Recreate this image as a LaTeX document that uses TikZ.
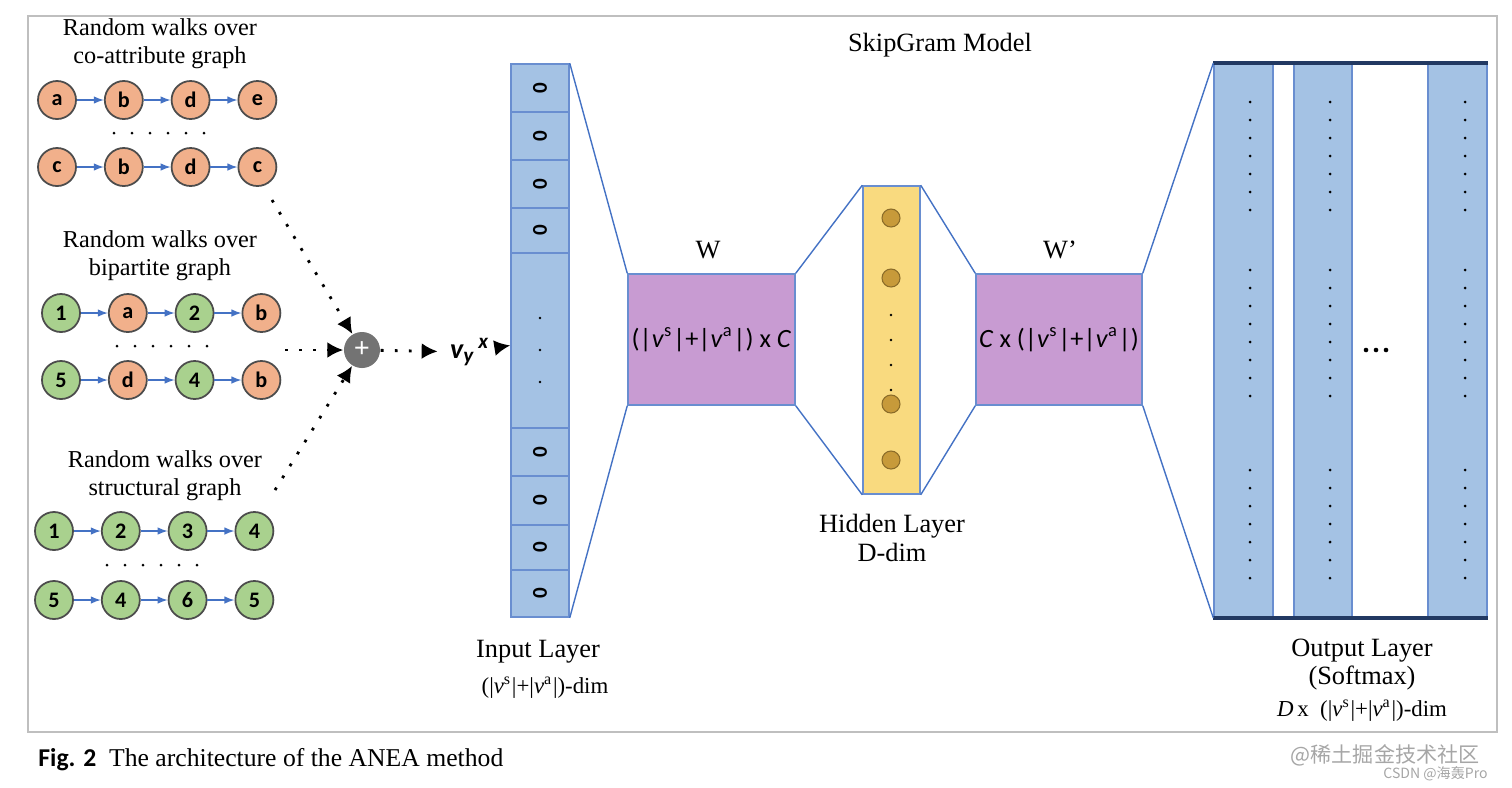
\documentclass[tikz,border=0pt]{standalone}
\usepackage{fontspec}
\setmainfont{Liberation Serif}
\newfontfamily\calfont{Carlito}
\newfontfamily\cjk{Noto Sans CJK SC}
\usetikzlibrary{positioning}
\usetikzlibrary{arrows.meta}
\definecolor{walkorange}{HTML}{F1B08B}
\definecolor{walkgreen}{HTML}{A9D18E}
\definecolor{layerblue}{HTML}{A4C2E4}
\definecolor{layerpurple}{HTML}{C89BD2}
\definecolor{layeryellow}{HTML}{F9DA7F}
\definecolor{edgeblue}{HTML}{4472C4}
\definecolor{unitbrown}{HTML}{C79A3A}
\newcommand{\vsva}{(|\textit{v}\textsuperscript{s}|+|\textit{v}\textsuperscript{a}|)}

\begin{document}
\begin{tikzpicture}[
    x=0.01cm, y=-0.01cm,
    font=\fontsize{6.9}{8}\selectfont,
    node distance=0.27cm,
    onode/.style={circle, draw=black!70, line width=0.5pt, fill=walkorange, minimum size=0.38cm, inner sep=0pt, font=\calfont\bfseries\fontsize{6.3}{7}\selectfont},
    gnode/.style={onode, fill=walkgreen},
    walkstep/.style={-{Latex[length=1mm]}, edgeblue, line width=0.4pt},
    dotline/.style={line width=0.8pt, dash pattern=on 0.8pt off 3.2pt, -{Latex[length=1.6mm,width=1.6mm]}},
    layer/.style={draw=edgeblue!80, line width=0.4pt, fill=layerblue, inner sep=0pt},
    link/.style={-, edgeblue, line width=0.4pt},
    zero/.style={rotate=90, font=\calfont\bfseries\fontsize{6}{7}\selectfont},
    textblock/.style={align=center},
    wbox/.style={draw=edgeblue!80, fill=layerpurple, inner sep=0pt, font=\calfont\fontsize{7.5}{9}\selectfont}
    ]
    \useasboundingbox (0,0) rectangle (1512,787);
    \draw[black!25] (28,16) rectangle (1497,732);

    %Walks over co-attribute graph
    \node[textblock] at (160,44) {Random walks over\\co-attribute graph};
    \node[onode] (A1) at (57,100) {a};
    \node[onode] (A2) [right=of A1] {b};
    \node[onode] (A3) [right=of A2] {d};
    \node[onode] (A4) [right=of A3] {e};
    \foreach \x in {0,...,5}
        \fill (114+\x*18,133) circle (1.5);
    \node[onode] (B1) at (57,167) {c};
    \node[onode] (B2) [right=of B1] {b};
    \node[onode] (B3) [right=of B2] {d};
    \node[onode] (B4) [right=of B3] {c};

    %Walks over bipartite graph
    \node[textblock] at (160,256) {Random walks over\\bipartite graph};
    \node[gnode] (C1) at (61,313) {1};
    \node[onode] (C2) [right=of C1] {a};
    \node[gnode] (C3) [right=of C2] {2};
    \node[onode] (C4) [right=of C3] {b};
    \foreach \x in {0,...,5}
        \fill (117+\x*18,346) circle (1.5);
    \node[gnode] (D1) at (61,380) {5};
    \node[onode] (D2) [right=of D1] {d};
    \node[gnode] (D3) [right=of D2] {4};
    \node[onode] (D4) [right=of D3] {b};

    %Walks over structural graph
    \node[textblock] at (165,476) {Random walks over\\structural graph};
    \node[gnode] (E1) at (54,531) {1};
    \node[gnode] (E2) [right=of E1] {2};
    \node[gnode] (E3) [right=of E2] {3};
    \node[gnode] (E4) [right=of E3] {4};
    \foreach \x in {0,...,5}
        \fill (107+\x*18,565) circle (1.5);
    \node[gnode] (F1) at (54,600) {5};
    \node[gnode] (F2) [right=of F1] {4};
    \node[gnode] (F3) [right=of F2] {6};
    \node[gnode] (F4) [right=of F3] {5};

    %Steps
    \draw[walkstep] (A1) -- (A2); \draw[walkstep] (A2) -- (A3); \draw[walkstep] (A3) -- (A4);
    \draw[walkstep] (B1) -- (B2); \draw[walkstep] (B2) -- (B3); \draw[walkstep] (B3) -- (B4);
    \draw[walkstep] (C1) -- (C2); \draw[walkstep] (C2) -- (C3); \draw[walkstep] (C3) -- (C4);
    \draw[walkstep] (D1) -- (D2); \draw[walkstep] (D2) -- (D3); \draw[walkstep] (D3) -- (D4);
    \draw[walkstep] (E1) -- (E2); \draw[walkstep] (E2) -- (E3); \draw[walkstep] (E3) -- (E4);
    \draw[walkstep] (F1) -- (F2); \draw[walkstep] (F2) -- (F3); \draw[walkstep] (F3) -- (F4);

    %Combine
    \node[circle, fill=black!55, minimum size=0.36cm, inner sep=0pt, text=white, font=\bfseries\fontsize{8}{8}\selectfont] (plus) at (362,350) {+};
    \coordinate (top) at (272,200);
    \coordinate (mid) at (285,350);
    \coordinate (low) at (275,490);
    \node[font=\calfont\bfseries\itshape\fontsize{8}{9}\selectfont] (vyx) at (470,352) {v\textsubscript{y}\textsuperscript{\,x}};
    \draw[dotline] (top) -- (plus);
    \draw[dotline] (mid) -- (plus);
    \draw[dotline] (low) -- (plus);
    \draw[dotline] (plus) -- (vyx);

    %Input layer
    \node[layer, minimum width=0.58cm, minimum height=5.53cm] (inp) at (540,340.5) {};
    \foreach \y in {112,160,208,253,428,476,525,570}
        \draw[edgeblue!80, line width=0.4pt] (511,\y) -- (569,\y);
    \foreach \y/\n in {88/a,136/b,184/c,230/d,452/e,500/f,547/g,593/h}
        \node[zero] (z\n) at (540,\y) {0};
    \foreach \y in {318,350,382}
        \fill (540,\y) circle (1.3);
    \draw[dotline] (vyx) -- (inp);
    \node (inlab) at (538,652) {\fontsize{7.5}{9}\selectfont Input Layer};
    \node (indim) at (545,688) {\fontsize{6.5}{8}\selectfont\vsva-dim};

    %Hidden part
    \node[wbox, minimum width=1.67cm, minimum height=1.31cm] (W) at (711.5,339.5) {\vsva{} x \textit{C}};
    \node (Wlab) at (708,250) {\fontsize{7.5}{9}\selectfont W};
    \node[draw=edgeblue!80, fill=layeryellow, minimum width=0.57cm, minimum height=3.08cm, inner sep=0pt] (hid) at (891.5,340) {};
    \foreach \y in {218,278,404,460}
        \draw[fill=unitbrown, draw=unitbrown!70!black, line width=0.3pt] (891,\y) circle (9);
    \foreach \y in {315,340,365,390}
        \fill (891,\y) circle (1.3);
    \node[wbox, minimum width=1.66cm, minimum height=1.31cm] (Wp) at (1059,339.5) {\textit{C} x \vsva};
    \node (Wplab) at (1060,250) {\fontsize{7.5}{9}\selectfont W'};
    \node[textblock] (hidlab) at (892,538) {\fontsize{7.5}{9}\selectfont Hidden Layer\\\fontsize{7.5}{9}\selectfont D-dim};
    \node (title) at (940,45) {\fontsize{7.5}{9}\selectfont SkipGram Model};

    %Output layer
    \node[layer, minimum width=0.59cm, minimum height=5.53cm] (out1) at (1243.5,340.5) {};
    \node[layer, minimum width=0.58cm, minimum height=5.53cm] (out2) at (1323,340.5) {};
    \node[layer, minimum width=0.59cm, minimum height=5.53cm] (out3) at (1457.5,340.5) {};
    \draw[edgeblue!50!black, line width=1pt] (out1.north west) -- (out3.north east);
    \draw[edgeblue!50!black, line width=1pt] (out1.south west) -- (out3.south east);
    \foreach \x in {1250,1330,1465}
        \foreach \y in {102,120,138,156,174,192,210,270,288,306,324,342,360,378,396,470,488,506,524,542,560,578}
            \fill (\x,\y) circle (1.5);
    \foreach \x in {1366,1376,1386}
        \fill (\x,350) circle (2.3);
    \node[textblock] (outlab) at (1362,680) {\fontsize{7.5}{9}\selectfont Output Layer\\\fontsize{7.5}{9}\selectfont (Softmax)\\[1pt]\fontsize{6.5}{8}\selectfont\textit{D}\,x\ \ \vsva-dim};

    %Links
    \draw[link] (inp.north east) -- (W.north west);
    \draw[link] (inp.south east) -- (W.south west);
    \draw[link] (W.north east) -- (hid.north west);
    \draw[link] (W.south east) -- (hid.south west);
    \draw[link] (hid.north east) -- (Wp.north west);
    \draw[link] (hid.south east) -- (Wp.south west);
    \draw[link] (Wp.north east) -- (out1.north west);
    \draw[link] (Wp.south east) -- (out1.south west);

    %Caption
    \node[anchor=west] (cap) at (26,760) {\fontsize{7.3}{9}\selectfont{\calfont\bfseries Fig. 2}\ \ The architecture of the ANEA method};
    \node[anchor=east, text=black!35] (wm1) at (1492,755) {\cjk\fontsize{6}{7}\selectfont @稀土掘金技术社区};
    \node[anchor=east, text=black!35] (wm2) at (1500,774) {\cjk\fontsize{4}{5}\selectfont CSDN @海轰Pro};
\end{tikzpicture}
\end{document}
